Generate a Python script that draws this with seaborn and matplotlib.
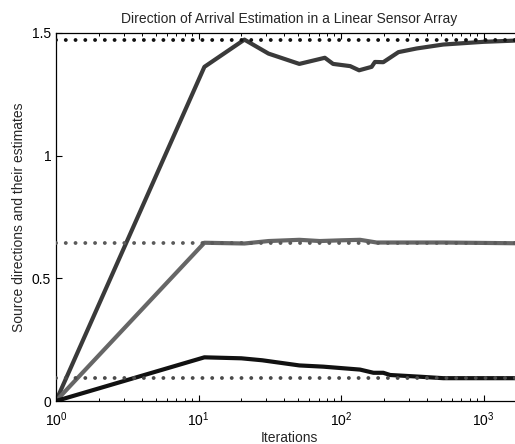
import numpy as np
import pandas as pd
import matplotlib
matplotlib.use("Agg")
import matplotlib.pyplot as plt
import matplotlib.ticker as mticker
import seaborn as sns

# ---- data ----
top_iters = [1, 11, 21, 31, 51, 77, 88, 116, 134, 164, 173, 198, 253, 340, 522, 997, 1660]
top_est = [0, 1.362, 1.473, 1.416, 1.374, 1.399, 1.374, 1.365, 1.348, 1.362, 1.382,
           1.381, 1.422, 1.437, 1.453, 1.464, 1.469]

mid_iters = [1, 11, 21, 31, 51, 71, 101, 136, 178, 522, 1660]
mid_est = [0, 0.645, 0.642, 0.652, 0.657, 0.652, 0.655, 0.657, 0.646, 0.646, 0.643]

bot_iters = [1, 11, 20, 28, 51, 75, 136, 169, 198, 221, 358, 522, 1660]
bot_est = [0, 0.178, 0.174, 0.166, 0.145, 0.140, 0.128, 0.115, 0.115, 0.106, 0.099, 0.093, 0.093]

true_dirs = [1.473, 0.645, 0.093]
series_names = ["s1", "s2", "s3"]
line_colors = ["#3a3a3a", "#666666", "#111111"]
dot_colors = ["#111111", "#5a5a5a", "#4a4a4a"]

title = "Direction of Arrival Estimation in a Linear Sensor Array"
xlabel = "Iterations"
ylabel = "Source directions and their estimates"

df = pd.concat([
    pd.DataFrame({"it": top_iters, "est": top_est, "src": "s1"}),
    pd.DataFrame({"it": mid_iters, "est": mid_est, "src": "s2"}),
    pd.DataFrame({"it": bot_iters, "est": bot_est, "src": "s3"}),
])

sns.set_style("ticks")
plt.rcParams["font.family"] = ["Liberation Sans", "DejaVu Sans"]
plt.rcParams["mathtext.fontset"] = "custom"
plt.rcParams["mathtext.rm"] = "Liberation Sans"
plt.rcParams["mathtext.it"] = "Liberation Sans"

W, H = 515, 444
RIGHT = 522  # axes extends slightly beyond the image edge
fig = plt.figure(figsize=(W / 100, H / 100), dpi=100)
ax = fig.add_axes([56 / W, (H - 401) / H, (RIGHT - 56) / W, (401 - 33) / H])

sns.lineplot(data=df, x="it", y="est", hue="src", palette=dict(zip(series_names, line_colors)),
             estimator=None, sort=False, linewidth=3.0, legend=False, ax=ax)

for v, c in zip(true_dirs, dot_colors):
    ax.axhline(v, color=c, linestyle=(0, (0.01, 2.5)), linewidth=2.8,
               dash_capstyle="round", zorder=5)

ax.set_xscale("log")
ax.set_xlim(1, 10 ** ((RIGHT - 56) / 142.5))
ax.set_ylim(0, 1.5)
ax.set_yticks([0, 0.5, 1, 1.5])
ax.yaxis.set_major_formatter(mticker.FuncFormatter(lambda v, p: "%g" % v))
ax.xaxis.set_major_locator(mticker.LogLocator(base=10))
ax.xaxis.set_minor_locator(mticker.LogLocator(base=10, subs=np.arange(2, 10)))

for s in ["left", "top", "bottom"]:
    ax.spines[s].set_linewidth(0.9)
    ax.spines[s].set_color("black")
ax.spines["right"].set_visible(False)

ax.tick_params(axis="both", which="both", direction="in", top=True, right=False,
               labelsize=10, colors="black")
ax.tick_params(which="major", length=4, width=0.8)
ax.tick_params(which="minor", length=2.5, width=0.7)
ax.tick_params(axis="x", pad=7)
ax.tick_params(axis="y", pad=3.5)

ax.set_title(title, fontsize=10, pad=7)
ax.set_xlabel(xlabel, fontsize=10, labelpad=1)
ax.set_ylabel(ylabel, fontsize=10, labelpad=4)

fig.savefig("out.png", dpi=100)
